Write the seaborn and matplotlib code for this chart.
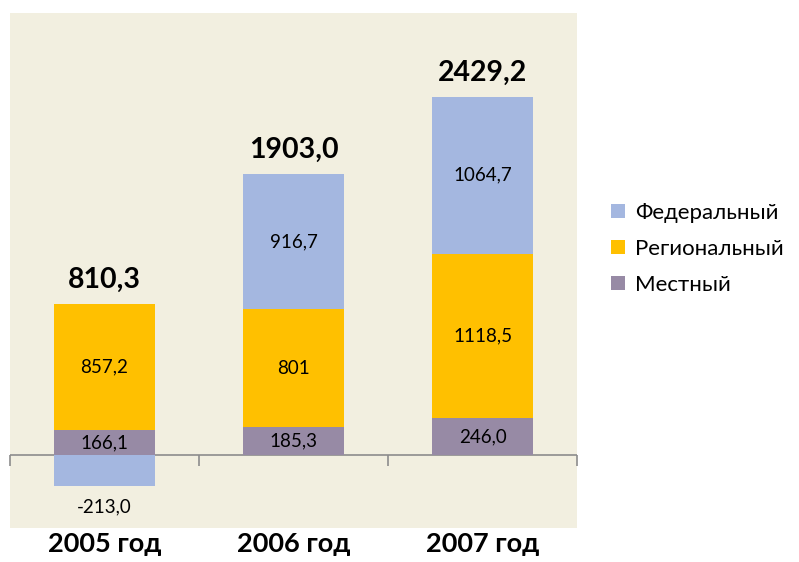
import numpy as np
import pandas as pd
import seaborn as sns
import matplotlib.pyplot as plt

# data (млн руб.)
years = ["2005 год", "2006 год", "2007 год"]
local_vals = [166.1, 185.3, 246.0]
regional_vals = [857.2, 801.0, 1118.5]
federal_vals = [-213.0, 916.7, 1064.7]
totals = [810.3, 1903.0, 2429.2]

local_lbl = ["166,1", "185,3", "246,0"]
regional_lbl = ["857,2", "801", "1118,5"]
federal_lbl = ["-213,0", "916,7", "1064,7"]
total_lbl = ["810,3", "1903,0", "2429,2"]

series_names = ["Федеральный", "Региональный", "Местный"]
colors = {"Федеральный": "#A4B7E0", "Региональный": "#FFC000", "Местный": "#978AA5"}

sns.set_style("white")
plt.rcParams['font.family'] = ['Lato', 'DejaVu Sans']
plt.rcParams['text.color'] = 'black'
plt.rcParams['xtick.color'] = 'black'

df = pd.DataFrame({"year": years, "local": local_vals,
                   "regional": regional_vals, "federal": federal_vals})
loc_arr = np.array(local_vals)
reg_arr = np.array(regional_vals)
fed_arr = np.array(federal_vals)
reg_bottom = loc_arr
fed_bottom = np.where(fed_arr < 0, 0, loc_arr + reg_arr)

fig = plt.figure(figsize=(7.99, 5.62), dpi=100)
ax = fig.add_axes([0.0125, 0.06, 0.7097, 0.917])
ax.set_facecolor("#F2EFE0")

bw = 0.53
bar_kw = dict(width=bw, saturation=1, ax=ax, linewidth=0, edgecolor="none")
sns.barplot(data=df, x="year", y="local", color=colors["Местный"],
            label="Местный", **bar_kw)
sns.barplot(data=df, x="year", y="regional", color=colors["Региональный"],
            bottom=reg_bottom, label="Региональный", **bar_kw)
sns.barplot(data=df, x="year", y="federal", color=colors["Федеральный"],
            bottom=fed_bottom, label="Федеральный", **bar_kw)
if ax.get_legend() is not None:
    ax.get_legend().remove()

c_loc, c_reg, c_fed = ax.containers[:3]
fs_in = 13.5
ax.bar_label(c_loc, labels=local_lbl, label_type="center", fontsize=fs_in)
ax.bar_label(c_reg, labels=regional_lbl, label_type="center", fontsize=fs_in)
# federal: inside for positive, below the bar for the negative one
fed_center = [l if v > 0 else "" for l, v in zip(federal_lbl, federal_vals)]
fed_edge = [l if v < 0 else "" for l, v in zip(federal_lbl, federal_vals)]
ax.bar_label(c_fed, labels=fed_center, label_type="center", fontsize=fs_in)
ax.bar_label(c_fed, labels=fed_edge, label_type="edge", fontsize=fs_in, padding=9)

# totals above the stacks
tops = loc_arr + reg_arr + np.clip(fed_arr, 0, None)
for i, (top, lbl) in enumerate(zip(tops, total_lbl)):
    ax.annotate(lbl, (i, top), xytext=(0, 8), textcoords="offset points",
                ha="center", va="bottom", fontsize=20.5, fontweight="bold")

ax.set_ylim(-500, 3000)
ax.set_xlim(-0.5, 2.5)
ax.set_yticks([])
ax.set_xlabel("")
ax.set_ylabel("")
for s in ax.spines.values():
    s.set_visible(False)

# zero line with category separators
ax.axhline(0, color="#8C8C8C", lw=1.2, zorder=0.5)
ax.vlines([-0.5, 0.5, 1.5, 2.5], -75, 0, color="#8C8C8C", lw=1.2, clip_on=False)

ax.tick_params(axis="x", length=0, pad=3)
ax.set_xticks(range(len(years)))
ax.set_xticklabels(years, fontsize=19.5, fontweight="bold")

handles, labels = ax.get_legend_handles_labels()
order = [labels.index(n) for n in series_names]
fig.legend([handles[i] for i in order], [labels[i] for i in order],
           loc="upper left", bbox_to_anchor=(0.754, 0.655), frameon=False,
           fontsize=16, handlelength=0.6, handleheight=0.6,
           handletextpad=0.45, labelspacing=0.72, borderaxespad=0)

fig.savefig("out.png", dpi=100)
